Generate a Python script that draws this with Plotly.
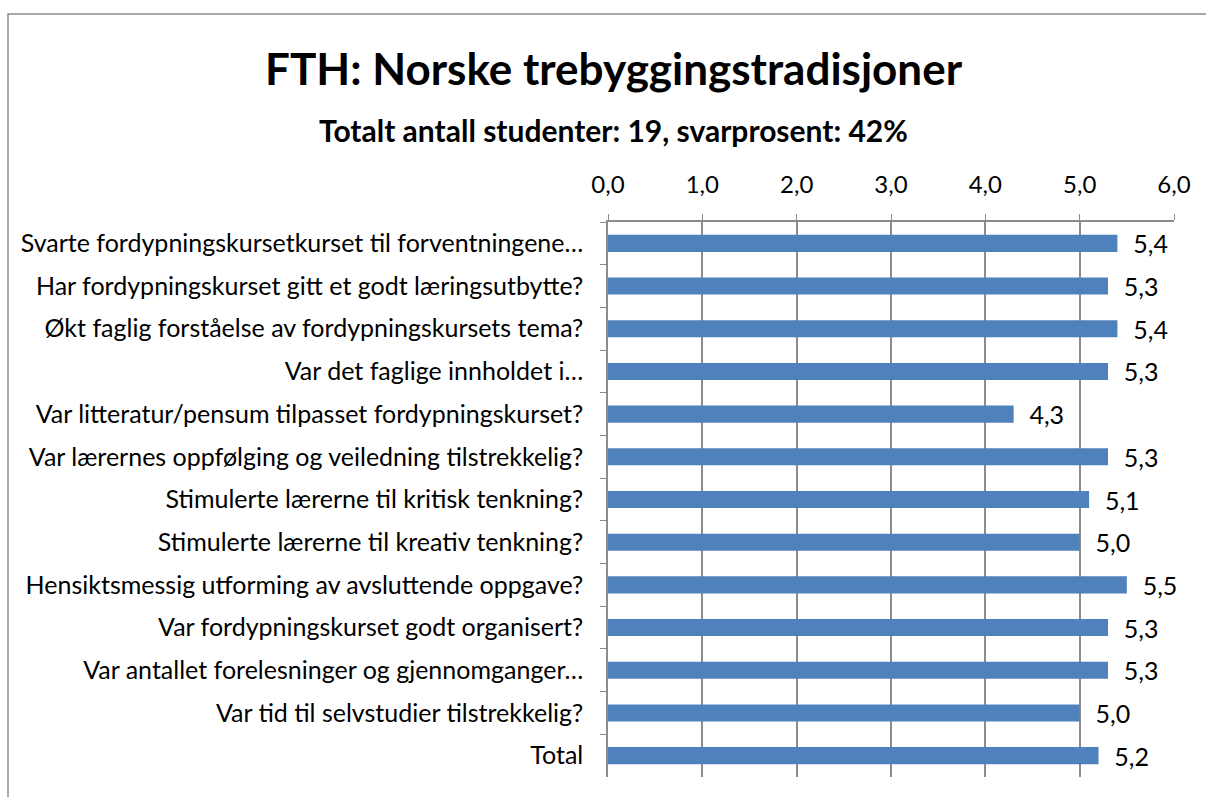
import plotly.graph_objects as go

# Survey questions (top to bottom) and mean scores
questions = [
    "Svarte fordypningskursetkurset til forventningene…",
    "Har fordypningskurset gitt et godt læringsutbytte?",
    "Økt faglig forståelse av fordypningskursets tema?",
    "Var det faglige innholdet i…",
    "Var litteratur/pensum tilpasset fordypningskurset?",
    "Var lærernes oppfølging og veiledning tilstrekkelig?",
    "Stimulerte lærerne til kritisk tenkning?",
    "Stimulerte lærerne til kreativ tenkning?",
    "Hensiktsmessig utforming av avsluttende oppgave?",
    "Var fordypningskurset godt organisert?",
    "Var antallet forelesninger og gjennomganger…",
    "Var tid til selvstudier tilstrekkelig?",
    "Total",
]
scores = [5.4, 5.3, 5.4, 5.3, 4.3, 5.3, 5.1, 5.0, 5.5, 5.3, 5.3, 5.0, 5.2]
x_ticks = [0, 1, 2, 3, 4, 5, 6]

title_text = "FTH: Norske trebyggingstradisjoner"
subtitle_text = "Totalt antall studenter: 19, svarprosent: 42%"

FONT = "Lato"
W, H = 1206, 797
L, R, T, B = 608, 1174, 222, 777  # plot area in pixels

def px_x(p):
    return (p - L) / (R - L)

def px_y(p):
    return (B - p) / (B - T)

fig = go.Figure(
    go.Bar(
        x=scores,
        y=questions,
        orientation="h",
        marker=dict(color="#4F81BD", line=dict(color="#4F81BD", width=0)),
        text=scores,
        texttemplate="\u00a0\u00a0%{x:.1f}",
        textposition="outside",
        textfont=dict(family=FONT, size=25, color="#000000"),
        constraintext="none",
        cliponaxis=False,
        hoverinfo="skip",
    )
)

fig.update_layout(
    width=W,
    height=H,
    margin=dict(l=L, r=W - R, t=T, b=H - B),
    paper_bgcolor="white",
    plot_bgcolor="white",
    separators=", ",
    bargap=0.6,
    showlegend=False,
    font=dict(family=FONT, color="#000000"),
    xaxis=dict(
        side="top",
        range=[0, 6],
        tickvals=x_ticks,
        tickformat=".1f",
        showgrid=True,
        gridcolor="#8C8C8C",
        gridwidth=1.5,
        showline=True,
        linecolor="#8C8C8C",
        linewidth=1.5,
        ticks="outside",
        ticklen=6,
        tickcolor="#8C8C8C",
        ticklabelstandoff=12,
        tickfont=dict(family=FONT, size=24, color="#000000"),
        zeroline=False,
        fixedrange=True,
    ),
    yaxis=dict(
        autorange="reversed",
        showline=True,
        linecolor="#8C8C8C",
        linewidth=1.5,
        ticks="outside",
        tickson="boundaries",
        ticklen=6,
        tickcolor="#8C8C8C",
        ticklabelstandoff=18,
        tickfont=dict(family=FONT, size=25, color="#000000"),
        showgrid=False,
        fixedrange=True,
    ),
    annotations=[
        dict(
            text="<b>" + title_text + "</b>",
            x=px_x(614), y=px_y(68), xref="paper", yref="paper",
            xanchor="center", yanchor="middle", showarrow=False,
            font=dict(family=FONT, size=44, color="#000000"),
        ),
        dict(
            text="<b>" + subtitle_text + "</b>",
            x=px_x(613), y=px_y(130), xref="paper", yref="paper",
            xanchor="center", yanchor="middle", showarrow=False,
            font=dict(family=FONT, size=30, color="#000000"),
        ),
    ],
    shapes=[
        dict(
            type="rect", xref="paper", yref="paper",
            x0=px_x(8), x1=px_x(1215), y0=px_y(805), y1=px_y(14),
            line=dict(color="#8C8C8C", width=1.5), fillcolor="rgba(0,0,0,0)",
            layer="below",
        )
    ],
)

fig.write_html("out.html")
